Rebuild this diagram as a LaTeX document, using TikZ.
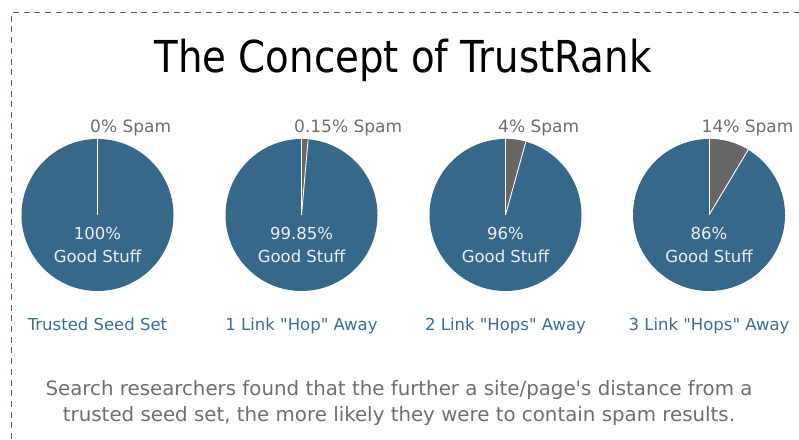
\documentclass[tikz,border=0pt]{standalone}
\usepackage{fontspec}
\setmainfont{DejaVu Sans}[Ligatures=TeXOff]
\newfontfamily\titlefont[FakeStretch=0.88]{DejaVu Sans}
\definecolor{goodblue}{HTML}{386889}
\definecolor{spamgray}{HTML}{666666}
\definecolor{labelblue}{HTML}{3E6C8E}
\definecolor{textgray}{HTML}{6E6E6E}
\definecolor{framecol}{HTML}{3F5F8F}
\tikzset{
   toplabel/.style={anchor=base west, inner sep=0pt, text=textgray, font=\fontsize{17}{18}\selectfont},
   inlabel/.style={anchor=base, inner sep=0pt, text=white!90!goodblue, font=\fontsize{16.5}{18}\selectfont},
   sublabel/.style={anchor=base, inner sep=0pt, text=labelblue, font=\fontsize{16.5}{18}\selectfont}
}
\begin{document}
\begin{tikzpicture}[x=1pt, y=1pt]
   \useasboundingbox (0,0) rectangle (799,-439);
   % frame, only top and left edge visible
   \coordinate (fbl) at (11.5,-439);
   \coordinate (ftl) at (11.5,-12.5);
   \coordinate (ftr) at (799,-12.5);
   \draw[framecol, line width=1.4pt, dash pattern=on 6pt off 4.7pt] (fbl) -- (ftl) -- (ftr);
   \node[anchor=base, inner sep=0pt, font=\titlefont\fontsize{44}{48}\selectfont] (title) at (403,-72) {The Concept of TrustRank};
   \def \Pies {
      p1/97.5/0/0\%/100\%/Trusted Seed Set,
      p2/301.5/5/0.15\%/99.85\%/1 Link "Hop" Away,
      p3/505.5/15.5/4\%/96\%/2 Link "Hops" Away,
      p4/709/31/14\%/86\%/3 Link "Hops" Away}
   \foreach \p / \x / \a / \s / \g / \t in \Pies {
      \coordinate (\p) at (\x,-215);
      \fill[goodblue] (\p) circle (76);
      \fill[spamgray] (\p) -- ++(90:76) arc (90:90-\a:76) -- cycle;
      \draw[white, line width=0.9pt] (\p) -- ++(90:76);
      \draw[white, line width=0.9pt] (\p) -- ++(90-\a:76);
      \node[toplabel] (\p-spam) at (\x-7.5,-132) {\s\ Spam};
      \node[inlabel] (\p-good) at (\x,-239) {\g};
      \node[inlabel] (\p-stuff) at (\x,-262.5) {Good Stuff};
      \node[sublabel] (\p-name) at (\x,-330) {\t};
   }
   \node[anchor=base, inner sep=0pt, text=textgray, align=center, font=\fontsize{19.8}{26}\selectfont] (caption) at (399,-421)
      {Search researchers found that the further a site/page's distance from a\\trusted seed set, the more likely they were to contain spam results.};
\end{tikzpicture}
\end{document}
